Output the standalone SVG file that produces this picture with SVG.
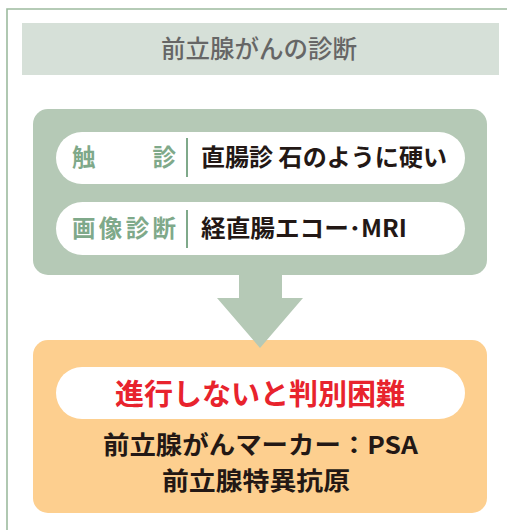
<svg xmlns="http://www.w3.org/2000/svg" width="507" height="530" viewBox="0 0 507 530">
<style>
.jp{font-family:"Noto Sans CJK JP","Noto Sans",sans-serif;font-weight:bold}
.lbl{fill:#7fa98a;font-size:23.5px}
.val{fill:#231815;font-size:23.5px}
.pill{fill:#ffffff}
.div{stroke:#7fa98a;stroke-width:2}
</style>
<rect width="507" height="530" fill="#ffffff"/>
<g id="frame">
<path d="M7 530 V9 H507" fill="none" stroke="#9dbb9f" stroke-width="1.6"/>
</g>
<g id="title">
<rect x="22" y="23" width="477" height="52" fill="#d6e0d8"/>
<text x="259" y="58" text-anchor="middle" font-family="Noto Sans CJK JP,sans-serif" font-size="24.5" font-weight="500" fill="#666666">前立腺がんの診断</text>
</g>
<g id="diagnosis">
<rect x="33" y="109" width="454" height="166" rx="15" fill="#b5c9b6"/>
<rect class="pill" x="56" y="132" width="409" height="52" rx="26"/>
<line class="div" x1="187" y1="138" x2="187" y2="177"/>
<text class="jp lbl" x="72" y="166">触</text>
<text class="jp lbl" x="176" y="166" text-anchor="end">診</text>
<text class="jp val" x="201" y="166" textLength="246" lengthAdjust="spacingAndGlyphs">直腸診 石のように硬い</text>
<rect class="pill" x="56" y="202" width="409" height="53" rx="26.5"/>
<line class="div" x1="187" y1="210" x2="187" y2="248"/>
<text class="jp lbl" x="72" y="237" textLength="104" lengthAdjust="spacing">画像診断</text>
<text class="jp val" x="201" y="237" textLength="206" lengthAdjust="spacingAndGlyphs">経直腸エコー･MRI</text>
</g>
<g id="result">
<rect x="33" y="340" width="454" height="173" rx="15" fill="#fdcf8f"/>
<rect class="pill" x="56" y="367" width="409" height="52" rx="26"/>
<text class="jp" x="260" y="405" text-anchor="middle" font-size="29" fill="#e8232d">進行しないと判別困難</text>
<text class="jp" x="103" y="454" font-size="24.5" fill="#231815" textLength="315" lengthAdjust="spacingAndGlyphs">前立腺がんマーカー：PSA</text>
<text class="jp" x="162" y="490" font-size="24.5" fill="#231815" textLength="188" lengthAdjust="spacingAndGlyphs">前立腺特異抗原</text>
</g>
<g id="connectors">
<path d="M239 274 H282 V298 H303 L260 348 L217 298 H239 Z" fill="#b5c9b6"/>
</g>
</svg>
